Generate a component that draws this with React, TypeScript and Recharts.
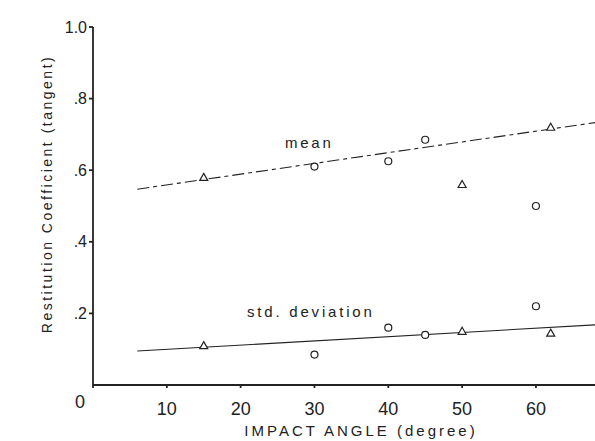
import { ComposedChart, Scatter, XAxis, YAxis, ReferenceDot } from "recharts";

// [impact angle, coefficient]
const meanCircles = [[30, 0.61], [40, 0.625], [45, 0.685], [60, 0.5]];
const meanTriangles = [[15, 0.58], [50, 0.56], [62, 0.72]];
const stdCircles = [[30, 0.085], [40, 0.16], [45, 0.14], [60, 0.22]];
const stdTriangles = [[15, 0.11], [50, 0.15], [62, 0.145]];
const meanFit = [[6, 0.547], [68, 0.733]];
const stdFit = [[6, 0.095], [68, 0.168]];

const xTicks = [0, 10, 20, 30, 40, 50, 60];
const yTicks = [0.2, 0.4, 0.6, 0.8, 1.0];

const toPts = (arr: number[][]) => arr.map(([x, y]) => ({ x, y }));

const ink = "#222";
const font = "'Liberation Sans', Arial, sans-serif";

const Circle = (p: any) => <circle cx={p.cx} cy={p.cy} r={3.5} fill="#fff" stroke={ink} strokeWidth={1.2} />;
const Triangle = (p: any) => (
  <path
    d={`M${p.cx},${p.cy - 4} L${p.cx + 4},${p.cy + 3} L${p.cx - 4},${p.cy + 3} Z`}
    fill="#fff"
    stroke={ink}
    strokeWidth={1.2}
  />
);
const NoDot = () => null;

const XTick = (p: any) => {
  const v = p.payload.value;
  const zero = v === 0;
  return (
    <text x={p.x + (zero ? -13 : 0)} y={p.y + (zero ? 18 : 25)} textAnchor="middle" fill={ink}
      fontFamily={font} fontSize={18}>
      {String(v)}
    </text>
  );
};

const fmtY = (v: number) => (v === 1 ? "1.0" : "." + Math.round(v * 10));

export default function App() {
  return (
    <div style={{ position: "absolute", left: 0, top: 0, background: "#fff" }}>
      <ComposedChart width={595} height={441} margin={{ top: 27, right: 0, bottom: 26, left: 33 }}>
        <XAxis type="number" dataKey="x" domain={[0, 68]} ticks={xTicks} allowDataOverflow
          height={30} stroke={ink} strokeWidth={1.8} tickSize={3} tick={<XTick />}
          label={{ value: "IMPACT ANGLE (degree)", position: "insideBottom", offset: -21, dx: 17,
            fill: ink, fontSize: 15, fontFamily: font, letterSpacing: 3 }} />
        <YAxis type="number" dataKey="y" domain={[0, 1]} ticks={yTicks} width={60}
          stroke={ink} strokeWidth={1.8} tickSize={4} tickFormatter={fmtY}
          tick={{ fill: ink, fontSize: 16, fontFamily: font }}
          label={{
            content: () => (
              <text x={52} y={194} transform="rotate(-90 52 194)" textAnchor="middle" fill={ink}
                fontFamily={font} fontSize={14} letterSpacing={2.5}>
                Restitution Coefficient (tangent)
              </text>
            ),
          }} />
        <Scatter data={toPts(meanFit)} line={{ stroke: ink, strokeWidth: 1.1, strokeDasharray: "12 4 4 4" }}
          shape={<NoDot />} isAnimationActive={false} />
        <Scatter data={toPts(stdFit)} line={{ stroke: ink, strokeWidth: 1.1 }}
          shape={<NoDot />} isAnimationActive={false} />
        <Scatter data={toPts(meanCircles)} shape={<Circle />} isAnimationActive={false} />
        <Scatter data={toPts(meanTriangles)} shape={<Triangle />} isAnimationActive={false} />
        <Scatter data={toPts(stdCircles)} shape={<Circle />} isAnimationActive={false} />
        <Scatter data={toPts(stdTriangles)} shape={<Triangle />} isAnimationActive={false} />
        <ReferenceDot x={29.3} y={0.676} r={0} fill="none" stroke="none"
          label={{ value: "mean", position: "center", fill: ink, fontSize: 15, fontFamily: font, letterSpacing: 2.8 }} />
        <ReferenceDot x={29.5} y={0.204} r={0} fill="none" stroke="none"
          label={{ value: "std. deviation", position: "center", fill: ink, fontSize: 15, fontFamily: font, letterSpacing: 2.8 }} />
      </ComposedChart>
    </div>
  );
}
